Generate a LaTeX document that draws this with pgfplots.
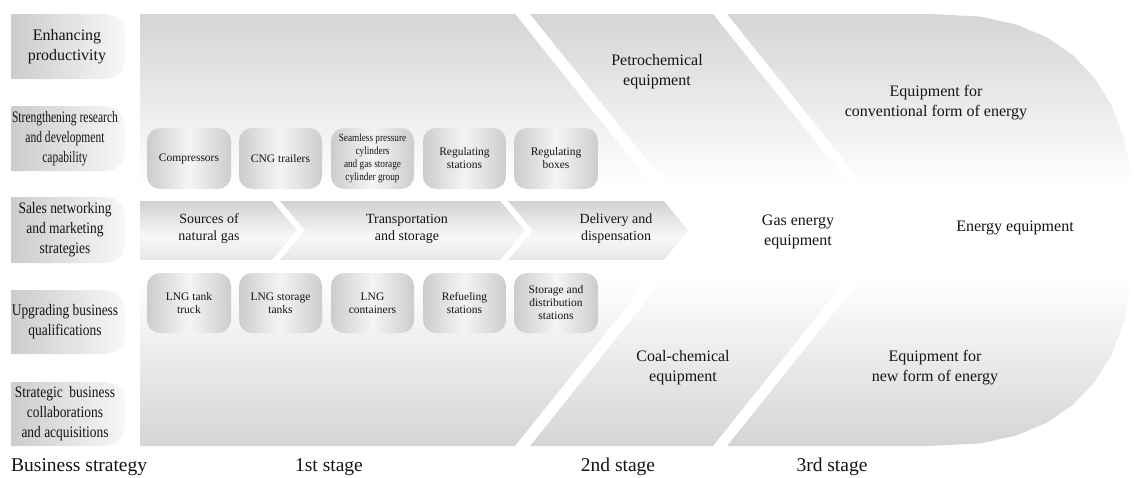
\documentclass[border=0pt]{standalone}
\usepackage{pgfplots}
\pgfplotsset{compat=1.18}
\usepackage{graphicx}
\usepackage{fontspec}
\setmainfont{Liberation Serif}
\newfontfamily\condA[FakeStretch=0.84]{Liberation Serif}
\newfontfamily\condB[FakeStretch=0.72]{Liberation Serif}
\definecolor{g1}{RGB}{213,213,213}
\definecolor{g2}{RGB}{204,204,204}
\definecolor{g3}{RGB}{210,210,210}
\definecolor{txt}{RGB}{20,20,20}
\pgfdeclareverticalshading{stage}{100bp}{color(0bp)=(g1); color(25bp)=(g1); color(44.5bp)=(white); color(55bp)=(white); color(75bp)=(g1); color(100bp)=(g1)}
\pgfdeclareverticalshading{bandsh}{100bp}{color(0bp)=(white!91!black); color(25bp)=(white!91!black); color(45bp)=(white!97!black); color(75bp)=(g3); color(100bp)=(g3)}
\begin{document}
\begin{tikzpicture}
\begin{axis}[at={(0,0)}, anchor=south west, scale only axis,
  width=1134pt, height=477pt, xmin=0, xmax=1134, ymin=0, ymax=477,
  y dir=reverse, hide axis, clip=false]
% ---- stage regions
\addplot[draw=none, shade, shading=stage]
  coordinates {(140,14) (515,14) (688,230) (515,446) (140,446)} -- cycle;
\addplot[draw=none, shade, shading=stage]
  coordinates {(530,14) (713,14) (886,230) (713,446) (530,446) (703,230)} -- cycle;
\addplot[draw=none, shade, shading=stage]
  coordinates {(727,14) (930,14) (980.3,16.6) (1016.5,24.5) (1047.2,37.5) (1073.3,55.5)
   (1094.8,78.3) (1111.8,106) (1124.1,138.4) (1131.5,176.8) (1134,230)
   (1131.5,283.2) (1124.1,321.6) (1111.8,354) (1094.8,381.7) (1073.3,404.5)
   (1047.2,422.5) (1016.5,435.5) (980.3,443.4) (930,446) (727,446) (900,230)} -- cycle;
% ---- left column boxes
\pgfplotsset{lbox/.style={draw=none, left color=g2, right color=white!97!black}}
\addplot[lbox] coordinates {(11,14)(107,14)(116,16.4)(122.6,23)(125,32)(125,61)(122.6,70)(116,76.6)(107,79)(11,79)} -- cycle;
\addplot[lbox] coordinates {(11,106)(107,106)(116,108.4)(122.6,115)(125,124)(125,153)(122.6,162)(116,168.6)(107,171)(11,171)} -- cycle;
\addplot[lbox] coordinates {(11,197)(107,197)(116,199.4)(122.6,206)(125,215)(125,245)(122.6,254)(116,260.6)(107,263)(11,263)} -- cycle;
\addplot[lbox] coordinates {(11,290)(107,290)(116,292.4)(122.6,299)(125,308)(125,336)(122.6,345)(116,351.6)(107,354)(11,354)} -- cycle;
\addplot[lbox] coordinates {(11,382)(107,382)(116,384.4)(122.6,391)(125,400)(125,428)(122.6,437)(116,443.6)(107,446)(11,446)} -- cycle;
% ---- arrow band
\pgfplotsset{band/.style={draw=none, shade, shading=bandsh}}
\addplot[band] coordinates {(140,201) (272,201) (297,230.5) (272,260) (140,260)} -- cycle;
\addplot[band] coordinates {(280,201) (500,201) (525,230.5) (500,260) (280,260) (305,230.5)} -- cycle;
\addplot[band] coordinates {(508,201) (664,201) (688,230.5) (664,260) (508,260) (533,230.5)} -- cycle;
% ---- small boxes
\pgfplotsset{sbox/.style={draw=none, rounded corners=13pt, left color=g2, right color=g2, middle color=white!96!black}}
\addplot[sbox] coordinates {(147,128) (231,128) (231,189) (147,189)} -- cycle;
\addplot[sbox] coordinates {(239,128) (322,128) (322,189) (239,189)} -- cycle;
\addplot[sbox] coordinates {(331,128) (414,128) (414,189) (331,189)} -- cycle;
\addplot[sbox] coordinates {(423,128) (506,128) (506,189) (423,189)} -- cycle;
\addplot[sbox] coordinates {(514,128) (598,128) (598,189) (514,189)} -- cycle;
\addplot[sbox] coordinates {(147,273) (231,273) (231,333) (147,333)} -- cycle;
\addplot[sbox] coordinates {(239,273) (322,273) (322,333) (239,333)} -- cycle;
\addplot[sbox] coordinates {(331,273) (414,273) (414,333) (331,333)} -- cycle;
\addplot[sbox] coordinates {(423,273) (506,273) (506,333) (423,333)} -- cycle;
\addplot[sbox] coordinates {(514,273) (598,273) (598,333) (514,333)} -- cycle;
% ---- texts
\tikzset{lt/.style={align=center, text=txt, inner sep=0pt, font=\fontsize{16}{20}\selectfont}}
\node[lt] at (67,46.5) {Enhancing\\productivity};
\node[lt, font=\condB\fontsize{16}{20}\selectfont] at (65,138.5) {Strengthening research\\and development\\capability};
\node[lt, font=\condA\fontsize{16}{20}\selectfont] at (65,230) {Sales networking\\and marketing\\strategies};
\node[lt, font=\condA\fontsize{16}{20}\selectfont] at (65,322) {Upgrading business\\qualifications};
\node[lt, font=\condA\fontsize{16}{20}\selectfont] at (65,414) {Strategic\ \ business\\collaborations\\and acquisitions};
\node[lt] at (657,72) {Petrochemical\\equipment};
\node[lt] at (936,103) {Equipment for\\conventional form of energy};
\node[lt] at (798,232) {Gas energy\\equipment};
\node[lt] at (1015,228) {Energy equipment};
\node[lt] at (683,368) {Coal-chemical\\equipment};
\node[lt] at (935,368) {Equipment for\\new form of energy};
\tikzset{arw/.style={align=center, text=txt, inner sep=0pt, font=\fontsize{14}{17}\selectfont}}
\node[arw] at (209,229) {Sources of\\natural gas};
\node[arw] at (407,229) {Transportation\\and storage};
\node[arw] at (616,229) {Delivery and\\dispensation};
\tikzset{st/.style={align=center, text=txt, inner sep=0pt, font=\fontsize{11.5}{13}\selectfont}}
\node[st] at (189,158.5) {Compressors};
\node[st] at (280.5,158.5) {CNG trailers};
\node[st, font=\condA\fontsize{11}{13}\selectfont] at (372.5,158.5) {Seamless pressure\\cylinders\\and gas storage\\cylinder group};
\node[st] at (464.5,158.5) {Regulating\\stations};
\node[st] at (556,158.5) {Regulating\\boxes};
\node[st] at (189,303) {LNG tank\\truck};
\node[st] at (280.5,303) {LNG storage\\tanks};
\node[st] at (372.5,303) {LNG\\containers};
\node[st] at (464.5,303) {Refueling\\stations};
\node[st] at (556,303) {Storage and\\distribution\\stations};
\tikzset{bt/.style={text=txt, inner sep=0pt, font=\fontsize{19.5}{23}\selectfont}}
\node[bt, anchor=base west] at (11,471) {Business strategy};
\node[bt, anchor=base] at (329,471) {1st stage};
\node[bt, anchor=base] at (618,471) {2nd stage};
\node[bt, anchor=base] at (832,471) {3rd stage};
\end{axis}
\pgfresetboundingbox
\useasboundingbox (0,0) rectangle (1134pt,477pt);
\end{tikzpicture}
\end{document}
